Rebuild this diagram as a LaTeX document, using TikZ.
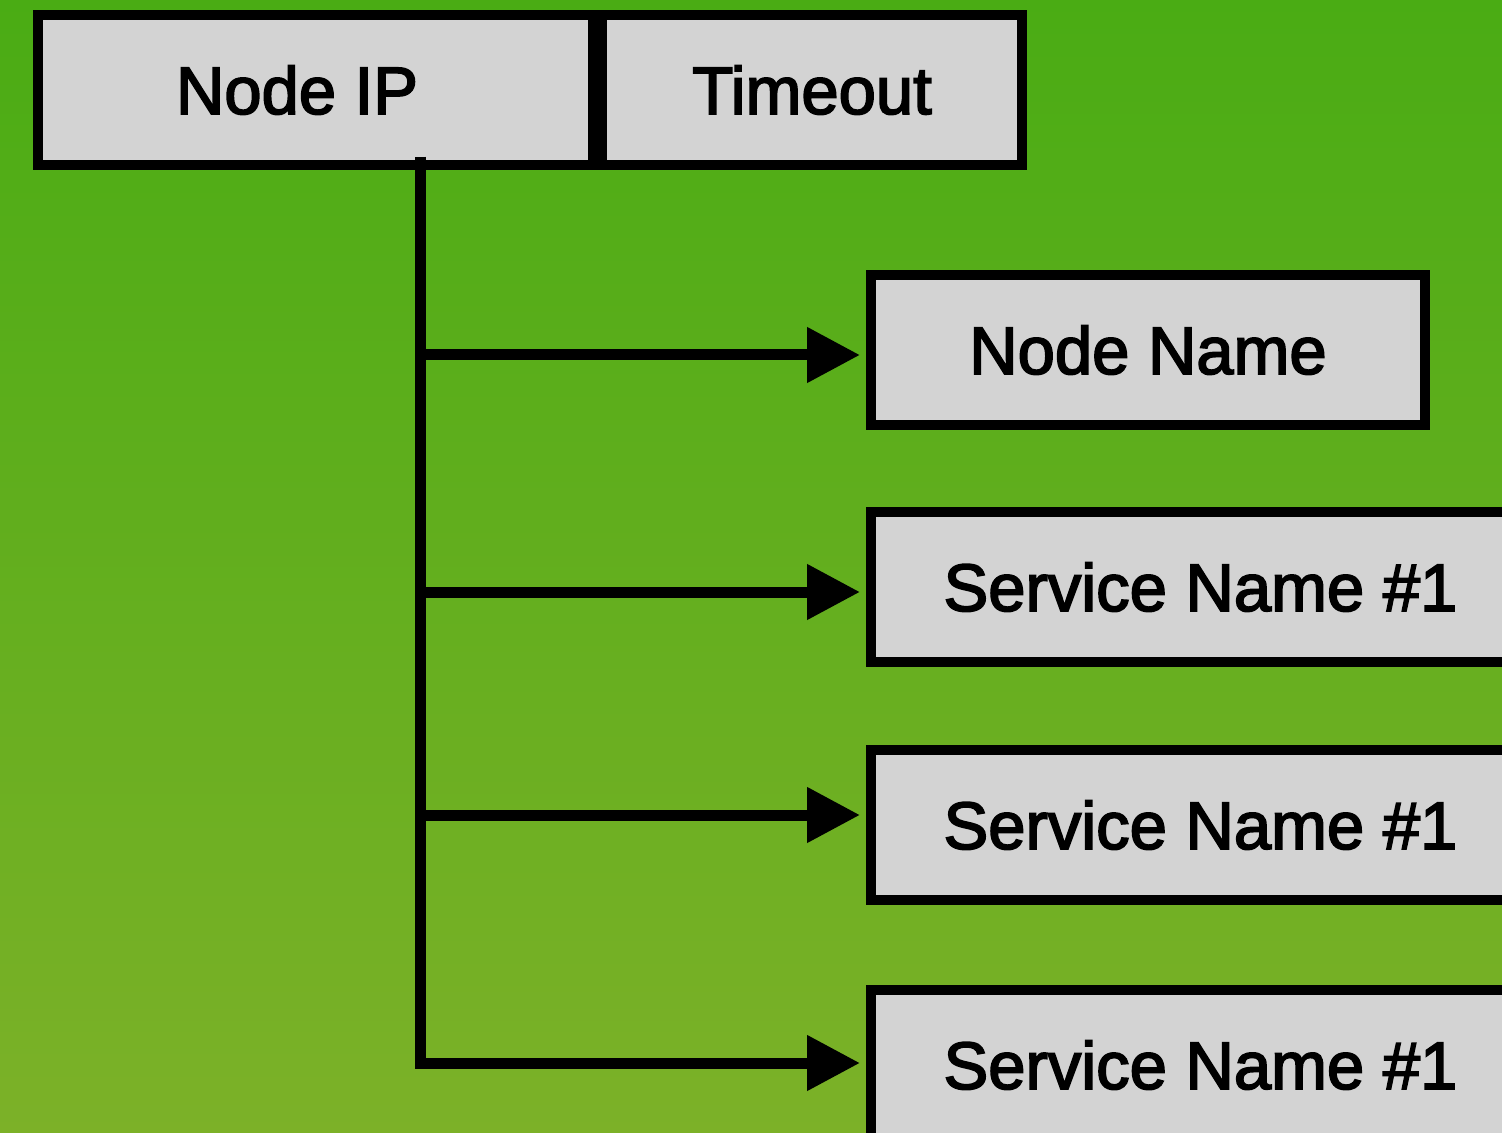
\documentclass[tikz,border=0pt]{standalone}
\usepackage{fontspec}
\setmainfont{Liberation Sans}
\newfontfamily\labelface[FakeBold=2.6]{Liberation Sans}
\usetikzlibrary{arrows.meta}
\definecolor{bgtop}{RGB}{74,172,20}
\definecolor{bgbot}{RGB}{124,177,40}
\definecolor{boxfill}{RGB}{211,211,211}
\tikzset{
  label font/.style={font=\labelface\fontsize{33.5}{40}\selectfont},
  field/.style={draw=black, fill=boxfill, line width=5pt, rectangle,
    minimum height=75pt, inner sep=0pt, label font},
  link/.style={draw=black, line width=5.5pt, shorten >=3pt,
    -{Triangle[length=26.5pt,width=26.5pt]}},
  trunk/.style={draw=black, line width=5.5pt}
}
\begin{document}
\begin{tikzpicture}[x=0.5pt,y=-0.5pt]
  \useasboundingbox (0,0) rectangle (1502,1133);
  \clip (0,0) rectangle (1502,1133);
  % background
  \shade[top color=bgtop, bottom color=bgbot] (0,0) rectangle (1502,1133);

  % record header
  \node[field, minimum width=277.5pt] (ip) at (315.5,90) {};
  \node[label font, inner sep=0pt] (iptext) at (297,90) {Node IP};
  \node[field, minimum width=210pt] (timeout) at (812,90) {Timeout};

  % child entries
  \node[field, minimum width=277pt] (name) at (1148,350) {Node Name};
  \node[field, minimum width=329.5pt] (svc1) at (1200.5,587) {Service Name \#1};
  \node[field, minimum width=329.5pt] (svc2) at (1200.5,825) {Service Name \#1};
  \node[field, minimum width=329.5pt] (svc3) at (1200.5,1065) {Service Name \#1};

  % branch points on the trunk
  \coordinate (top) at (420,157);
  \coordinate (b1) at (420,355);
  \coordinate (b2) at (420,592);
  \coordinate (b3) at (420,815);
  \coordinate (bend) at (420,1063);

  % connectors
  \path[trunk] (top) -- (bend);
  \draw[link] (b1) -- (b1 -| name.west);
  \draw[link] (b2) -- (b2 -| svc1.west);
  \draw[link] (b3) -- (b3 -| svc2.west);
  \draw[link, line join=miter] (top) -- (bend) -- (bend -| svc3.west);
\end{tikzpicture}
\end{document}
